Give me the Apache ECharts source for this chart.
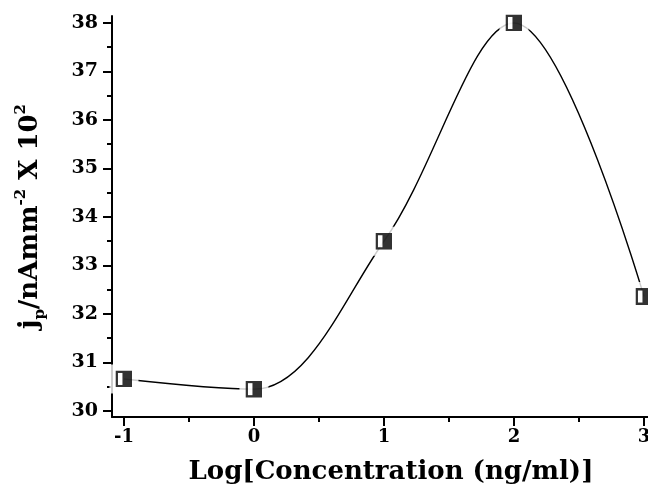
<!DOCTYPE html>
<html>
<head>
<meta charset="utf-8">
<script src="https://cdn.jsdelivr.net/npm/echarts@6/dist/echarts.min.js"></script>
<style>
  html, body { margin: 0; padding: 0; background: #fff; }
  #container { width: 648px; height: 488px; }
</style>
</head>
<body>
<div id="container"></div>
<script>
var logConc = [-1, 0, 1, 2, 3];
var current = [30.66, 30.45, 33.5, 38.0, 32.36];
var xTicks = [-1, 0, 1, 2, 3];
var yTicks = [30, 31, 32, 33, 34, 35, 36, 37, 38];

var font = 'DejaVu Serif';
var points = logConc.map(function (x, i) { return [x, current[i]]; });
var xMinor = xTicks.slice(1).map(function (v) { return v - 0.5; });
var yMinor = yTicks.slice(1).map(function (v) { return v - 0.5; });

// half white / half black square like the Origin marker
var markerSvg = '<svg xmlns="http://www.w3.org/2000/svg" width="17" height="17">' +
    '<rect x="0" y="0" width="17" height="17" fill="#000"/>' +
    '<rect x="2.5" y="2.5" width="4.5" height="12" fill="#fff"/></svg>';
var marker = 'image://data:image/svg+xml;utf8,' + encodeURIComponent(markerSvg);

var tickStyle = { color: '#000', width: 2 };
var labelStyle = { color: '#000', fontFamily: font, fontWeight: 'bold' };

var myChart = echarts.init(document.getElementById('container'));

myChart.setOption({
    backgroundColor: '#fff',
    animation: false,
    grid: { left: 112, right: 0, top: 16, bottom: 71, outerBoundsMode: 'none', containLabel: false },
    xAxis: [{
        type: 'value',
        min: -1.092,
        max: 3.031,
        axisLine: { show: true, onZero: false, lineStyle: { color: '#000', width: 2 } },
        axisTick: { show: true, length: 9, customValues: xTicks, lineStyle: tickStyle },
        splitLine: { show: false },
        axisLabel: Object.assign({ margin: 11, fontSize: 18, customValues: xTicks }, labelStyle),
        name: 'Log[Concentration (ng/ml)]',
        nameLocation: 'middle',
        nameGap: 42,
        nameTextStyle: Object.assign({ fontSize: 26, padding: [0, 0, 0, 22] }, labelStyle)
    }, {
        type: 'value',
        min: -1.092,
        max: 3.031,
        position: 'bottom',
        axisLine: { show: false, onZero: false },
        axisTick: { show: true, length: 5, customValues: xMinor, lineStyle: tickStyle },
        axisLabel: { show: false },
        splitLine: { show: false }
    }],
    yAxis: [{
        type: 'value',
        min: 29.876,
        max: 38.144,
        axisLine: { show: true, onZero: false, lineStyle: { color: '#000', width: 2 } },
        axisTick: { show: true, length: 9, customValues: yTicks, lineStyle: tickStyle },
        splitLine: { show: false },
        axisLabel: Object.assign({ margin: 14, fontSize: 19, customValues: yTicks }, labelStyle),
        name: '{a|j}{sub|p}{a|/nAmm}{sup|-2}{a| X 10}{sup|2}',
        nameLocation: 'middle',
        nameRotate: 90,
        nameGap: 62,
        nameTextStyle: Object.assign({
            fontSize: 26,
            rich: {
                a: Object.assign({ fontSize: 26, lineHeight: 40, verticalAlign: 'middle' }, labelStyle),
                sub: Object.assign({ fontSize: 15, lineHeight: 40, verticalAlign: 'bottom', padding: [0, 0, 2, 0] }, labelStyle),
                sup: Object.assign({ fontSize: 15, lineHeight: 40, verticalAlign: 'top', padding: [4, 0, 0, 0] }, labelStyle)
            }
        }, labelStyle)
    }, {
        type: 'value',
        min: 29.876,
        max: 38.144,
        position: 'left',
        axisLine: { show: false, onZero: false },
        axisTick: { show: true, length: 5, customValues: yMinor, lineStyle: tickStyle },
        axisLabel: { show: false },
        splitLine: { show: false }
    }],
    series: [{
        type: 'line',
        data: points,
        smooth: 0.35,
        smoothMonotone: 'none',
        showSymbol: false,
        lineStyle: { color: '#000', width: 1.4 },
        z: 2
    }, {
        // white gap around markers, as Origin draws it
        type: 'scatter',
        data: points,
        symbol: 'rect',
        symbolSize: 29,
        itemStyle: { color: '#fff' },
        z: 3
    }, {
        type: 'scatter',
        data: points,
        symbol: marker,
        symbolSize: 17,
        z: 4
    }]
});
</script>
</body>
</html>
